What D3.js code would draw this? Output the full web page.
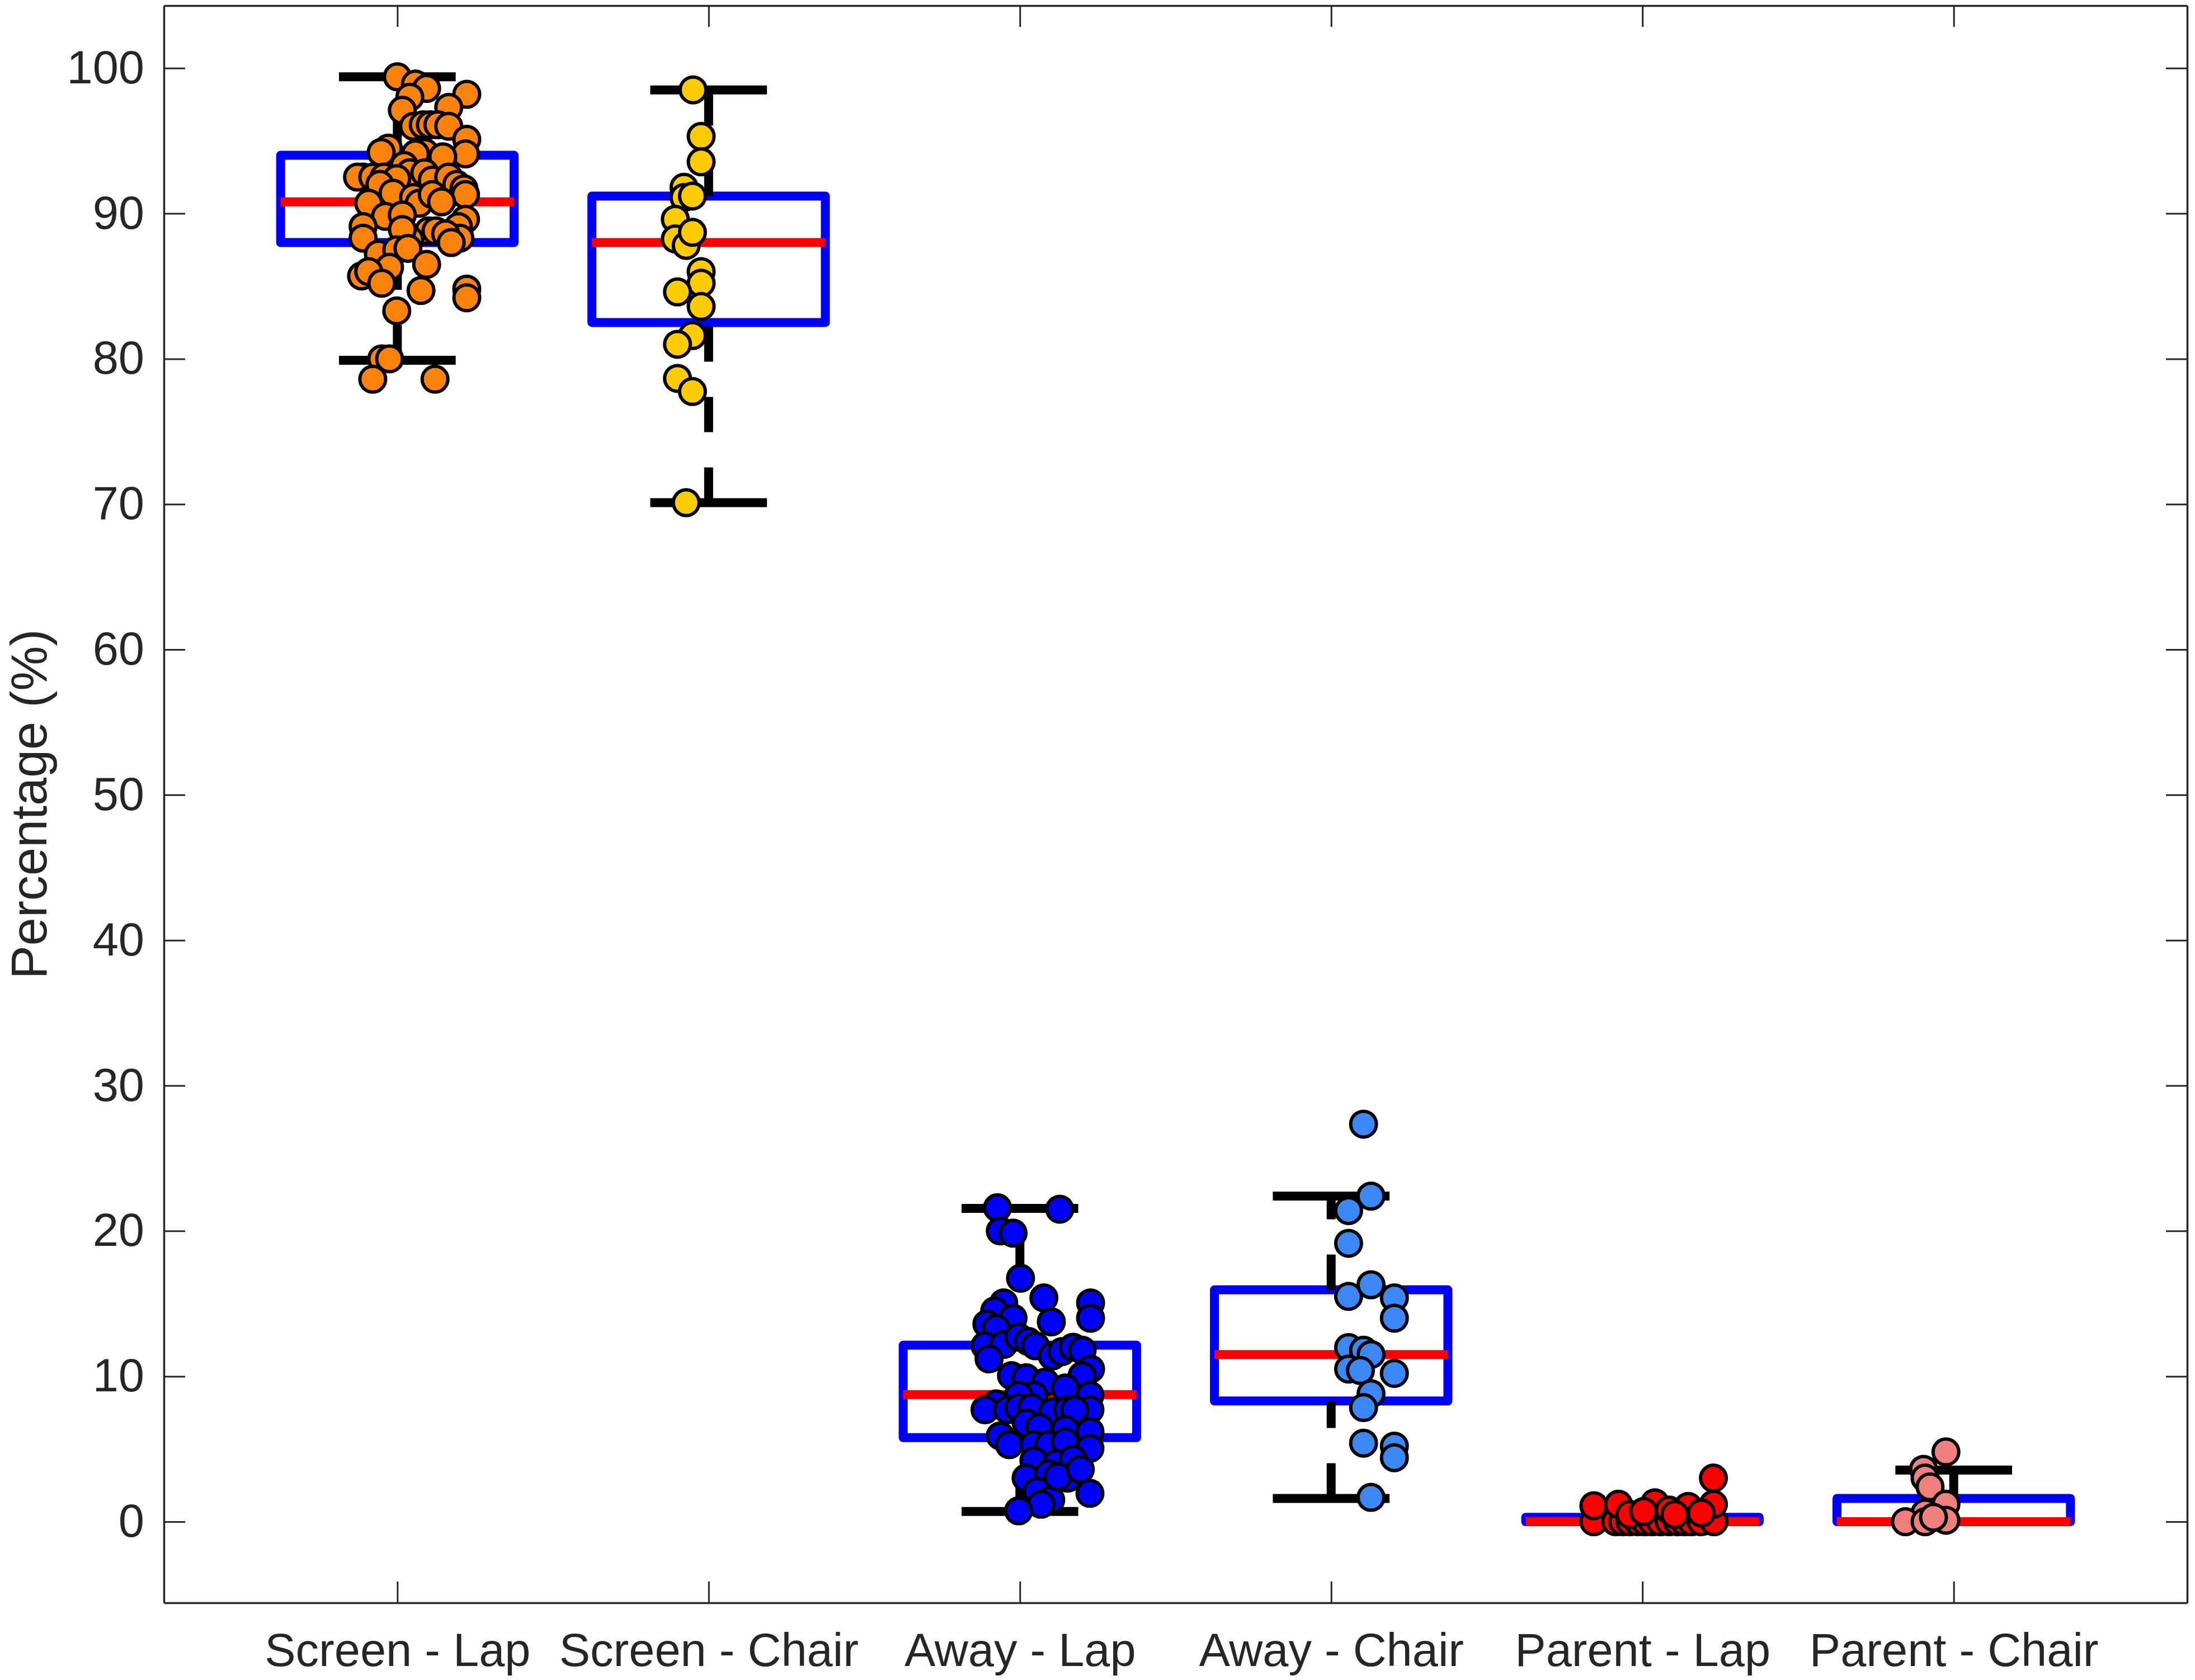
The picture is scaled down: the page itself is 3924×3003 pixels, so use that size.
<!DOCTYPE html>
<html>
<head>
<meta charset="utf-8">
<script src="https://cdnjs.cloudflare.com/ajax/libs/d3/7.8.5/d3.min.js"></script>
<style>
  body { margin: 0; background: #fff; }
  text { font-family: "Liberation Sans", Arial, Helvetica, sans-serif; }
</style>
</head>
<body>
<script>
// categories and box statistics
var categories = ["Screen - Lap", "Screen - Chair", "Away - Lap", "Away - Chair", "Parent - Lap", "Parent - Chair"];
var q1s      = [88.0, 82.5, 5.78, 8.3, 0, 0];
var medians  = [90.8, 88.0, 8.75, 11.5, 0, 0];
var q3s      = [94.0, 91.2, 12.14, 15.95, 0.3, 1.6];
var lowAdj   = [79.9, 70.1, 0.7, 1.6, 0, 0];
var highAdj  = [99.4, 98.5, 21.55, 22.4, 0.3, 3.55];
var fills    = ["#fc830b", "#fccc00", "#0000ff", "#3b88f5", "#ff0000", "#f08080"];
var yTicks   = [0, 10, 20, 30, 40, 50, 60, 70, 80, 90, 100];

// individual points: value and horizontal jitter (category units)
var screenLapVals = [99.4, 98.9, 98.6, 98.0, 98.2, 97.1, 97.3, 96.0, 96.1, 96.1, 96.1, 96.0, 95.1, 94.1, 94.5, 94.2, 94.2,
  94.1, 93.9, 93.3, 92.8, 92.5, 92.5, 92.5, 92.5, 92.4, 92.8, 92.3, 92.5, 92.0, 91.7, 91.3, 92.0, 91.4, 91.1, 90.7, 91.3,
  90.8, 90.7, 89.8, 89.9, 89.1, 88.3, 89.6, 89.1, 88.3, 88.8, 88.8, 88.6, 88.0, 88.2, 88.9, 87.2, 87.5, 87.6, 86.5, 86.3,
  85.7, 86.0, 85.2, 84.7, 84.8, 84.2, 83.3, 80.0, 80.0, 78.6, 78.6];
var screenLapJit = [0.0, 0.058, 0.094, 0.04, 0.223, 0.016, 0.165, 0.052, 0.083, 0.106, 0.13, 0.165, 0.223, 0.219, -0.029,
  -0.052, 0.088, 0.058, 0.146, 0.022, 0.04, -0.11, -0.128, -0.079, -0.043, -0.002, 0.088, 0.112, 0.165, 0.191, 0.214,
  0.219, -0.056, -0.014, 0.052, 0.07, 0.112, 0.142, -0.092, -0.038, 0.016, -0.11, -0.11, 0.219, 0.196, 0.201, 0.101,
  0.124, 0.155, 0.173, 0.04, 0.016, -0.061, -0.002, 0.034, 0.094, -0.025, -0.115, -0.092, -0.05, 0.076, 0.223, 0.223,
  -0.002, -0.05, -0.025, -0.079, 0.121];

var screenChairVals = [98.5, 95.3, 93.55, 91.8, 91.1, 91.2, 89.6, 88.25, 87.8, 88.7, 86.0, 85.2, 84.6, 83.6, 81.6, 81.0,
  78.65, 77.75, 70.1];
var screenChairJit = [-0.05, -0.024, -0.024, -0.079, -0.079, -0.052, -0.107, -0.107, -0.072, -0.052, -0.024, -0.024,
  -0.1, -0.024, -0.052, -0.1, -0.1, -0.052, -0.072];

var awayLapVals = [21.6, 21.5, 20.0, 19.85, 16.75, 15.4, 15.05, 14.0, 15.05, 14.5, 13.6, 14.0, 13.75, 13.3, 12.1, 12.2,
  12.7, 12.4, 12.1, 11.2, 11.4, 11.7, 12.0, 11.8, 10.5, 10.05, 10.05, 9.9, 9.6, 9.2, 8.7, 8.7, 8.7, 8.1, 7.7, 7.7, 7.85,
  7.85, 7.55, 7.7, 7.7, 7.7, 6.8, 6.5, 6.35, 6.2, 5.9, 5.3, 5.3, 5.3, 5.5, 5.05, 4.2, 4.0, 4.3, 3.0, 3.3, 3.0, 2.1, 1.95,
  1.5, 1.2, 0.75, 3.1, 3.6];
var awayLapJit = [-0.072, 0.128, -0.063, -0.022, 0.002, 0.077, 0.227, 0.227, -0.052, -0.081, -0.106, -0.022, 0.101,
  -0.076, -0.112, -0.052, -0.004, 0.027, 0.05, -0.099, 0.104, 0.135, 0.171, 0.2, 0.227, 0.2, -0.027, 0.02, 0.081, 0.146,
  0.225, 0.045, -0.004, -0.076, -0.112, -0.04, -0.004, 0.038, 0.104, 0.153, 0.225, 0.176, 0.02, 0.063, 0.146, 0.225,
  -0.063, -0.034, 0.045, 0.092, 0.146, 0.225, 0.045, 0.117, 0.171, 0.02, 0.092, 0.153, 0.056, 0.225, 0.099, 0.068,
  -0.004, 0.122, 0.194];

var awayChairVals = [27.35, 22.4, 21.4, 19.15, 15.5, 16.3, 15.4, 14.0, 11.98, 11.8, 11.5, 10.5, 10.4, 10.2, 8.8, 7.85,
  5.4, 5.2, 4.4, 1.67];
var awayChairJit = [0.104, 0.128, 0.056, 0.056, 0.056, 0.128, 0.203, 0.203, 0.056, 0.104, 0.128, 0.056, 0.094, 0.203,
  0.128, 0.104, 0.104, 0.203, 0.203, 0.128];

var parentLapVals = [0, 0, 0, 0, 0, 0, 0, 0, 0, 0, 0, 0, 0, 0, 1.1, 1.2, 1.3, 1.05, 1.2, 3.0, 0.5, 0.7, 0.8, 0.5, 0.6];
var parentLapJit = [-0.156, -0.086, -0.063, -0.04, -0.014, 0.009, 0.032, 0.058, 0.086, 0.112, 0.135, 0.158, 0.189, 0.23,
  -0.156, -0.077, 0.04, 0.147, 0.228, 0.228, -0.04, 0.004, 0.086, 0.104, 0.189];

var parentChairVals = [4.8, 3.6, 3.0, 2.4, 1.2, 0.6, 0.0, 0.0, 0.1, 0.3];
var parentChairJit = [-0.025, -0.097, -0.092, -0.076, -0.025, -0.092, -0.155, -0.092, -0.025, -0.065];

var pointVals = [screenLapVals, screenChairVals, awayLapVals, awayChairVals, parentLapVals, parentChairVals];
var pointJit = [screenLapJit, screenChairJit, awayLapJit, awayChairJit, parentLapJit, parentChairJit];

var W = 3924, H = 3003;
var plotL = 293, plotR = 3910, plotT = 10, plotB = 2865;
var boxHalf = 0.375, capHalf = 0.1875;

var x = d3.scaleLinear().domain([0.25, 6.75]).range([plotL, plotR]);
var y = d3.scaleLinear().domain([-5.58, 104.3]).range([plotB, plotT]);

var svg = d3.select("body").append("svg")
    .attr("width", W)
    .attr("height", H);

var axisColor = "#262626";
function styleAxis(g) {
    g.selectAll("path.domain").attr("stroke", axisColor).attr("stroke-width", 3.5);
    g.selectAll(".tick line").attr("stroke", axisColor).attr("stroke-width", 3);
    g.selectAll(".tick text").attr("fill", axisColor).attr("font-size", 83)
        .attr("font-family", "'Liberation Sans', Arial, sans-serif");
}

// axes (ticks pointing inwards, mirrored on top and right)
svg.append("g")
    .attr("transform", "translate(0," + plotB + ")")
    .call(d3.axisBottom(x).tickValues([1, 2, 3, 4, 5, 6])
        .tickFormat(function(d) { return categories[d - 1]; })
        .tickSizeInner(-38).tickSizeOuter(0).tickPadding(54))
    .call(styleAxis);

svg.append("g")
    .attr("transform", "translate(0," + plotT + ")")
    .call(d3.axisTop(x).tickValues([1, 2, 3, 4, 5, 6]).tickFormat("")
        .tickSizeInner(-38).tickSizeOuter(0))
    .call(styleAxis);

svg.append("g")
    .attr("transform", "translate(" + plotL + ",0)")
    .call(d3.axisLeft(y).tickValues(yTicks).tickFormat(d3.format("d"))
        .tickSizeInner(-38).tickSizeOuter(0).tickPadding(35))
    .call(styleAxis);

svg.append("g")
    .attr("transform", "translate(" + plotR + ",0)")
    .call(d3.axisRight(y).tickValues(yTicks).tickFormat("")
        .tickSizeInner(-38).tickSizeOuter(0))
    .call(styleAxis);

svg.append("text")
    .attr("transform", "translate(83," + ((plotT + plotB) / 2) + ") rotate(-90)")
    .attr("text-anchor", "middle")
    .attr("fill", axisColor)
    .attr("font-size", 90)
    .text("Percentage (%)");

var idx = d3.range(categories.length);

// boxes
svg.append("g").selectAll("rect")
    .data(idx)
    .join("rect")
    .attr("x", function(i) { return x(i + 1 - boxHalf); })
    .attr("width", function(i) { return x(i + 1 + boxHalf) - x(i + 1 - boxHalf); })
    .attr("y", function(i) { return y(q3s[i]); })
    .attr("height", function(i) { return y(q1s[i]) - y(q3s[i]); })
    .attr("fill", "none")
    .attr("stroke", "#0000ff")
    .attr("stroke-width", 16)
    .attr("stroke-linejoin", "round");

// whiskers (dashed): lower drawn from the adjacent value up, upper from the box up
var wg = svg.append("g").attr("stroke", "#000").attr("stroke-width", 16).attr("fill", "none");
idx.forEach(function(i) {
    var cx = x(i + 1);
    if (lowAdj[i] < q1s[i]) {
        wg.append("line").attr("x1", cx).attr("x2", cx)
            .attr("y1", y(lowAdj[i])).attr("y2", y(q1s[i]))
            .attr("stroke-dasharray", "63,63");
        wg.append("line").attr("x1", x(i + 1 - capHalf)).attr("x2", x(i + 1 + capHalf))
            .attr("y1", y(lowAdj[i])).attr("y2", y(lowAdj[i]));
    }
    if (highAdj[i] > q3s[i]) {
        wg.append("line").attr("x1", cx).attr("x2", cx)
            .attr("y1", y(q3s[i])).attr("y2", y(highAdj[i]))
            .attr("stroke-dasharray", "63,63");
        wg.append("line").attr("x1", x(i + 1 - capHalf)).attr("x2", x(i + 1 + capHalf))
            .attr("y1", y(highAdj[i])).attr("y2", y(highAdj[i]));
    }
});

// medians
svg.append("g").selectAll("line")
    .data(idx)
    .join("line")
    .attr("x1", function(i) { return x(i + 1 - boxHalf); })
    .attr("x2", function(i) { return x(i + 1 + boxHalf); })
    .attr("y1", function(i) { return y(medians[i]); })
    .attr("y2", function(i) { return y(medians[i]); })
    .attr("stroke", "#ff0000")
    .attr("stroke-width", 16);

// scatter points on top
idx.forEach(function(i) {
    var pts = pointVals[i].map(function(v, k) { return {v: v, j: pointJit[i][k]}; });
    svg.append("g")
        .attr("fill", fills[i])
        .attr("stroke", "#000")
        .attr("stroke-width", 6)
        .selectAll("circle")
        .data(pts)
        .join("circle")
        .attr("cx", function(d) { return x(i + 1 + d.j); })
        .attr("cy", function(d) { return y(d.v); })
        .attr("r", 23);
});
</script>
</body>
</html>
